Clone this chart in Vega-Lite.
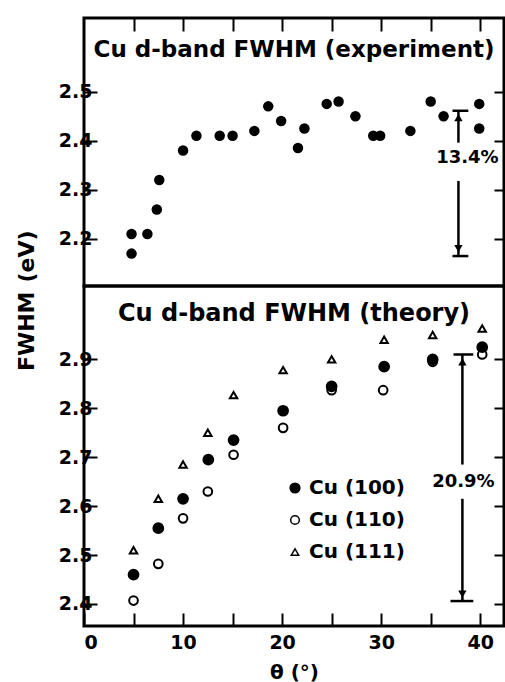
{
  "$schema": "https://vega.github.io/schema/vega-lite/v6.json",
  "background": "white",
  "padding": {"left": 13, "top": 15, "right": 1, "bottom": 2},
  "spacing": 0,
  "bounds": "flush",
  "config": {
    "view": {"stroke": "black", "strokeWidth": 3},
    "font": "DejaVu Sans",
    "axis": {
      "grid": false, "domain": false, "tickColor": "black", "tickWidth": 2, "tickSize": -13,
      "labelFont": "DejaVu Sans", "labelFontWeight": "bold", "labelColor": "black", "labelFontSize": 19,
      "titleFont": "DejaVu Sans", "titleFontWeight": "bold", "titleColor": "black", "titleFontSize": 20
    },
    "title": {"font": "DejaVu Sans", "fontWeight": "bold", "color": "black", "fontSize": 23, "anchor": "middle"}
  },
  "vconcat": [
    {
      "width": 420, "height": 268,
      "title": {"text": "Cu d-band  FWHM (experiment)", "offset": -45},
      "layer": [
        {
          "data": {"values": [
            {"theta": 4.8, "fwhm": 2.21}, {"theta": 4.8, "fwhm": 2.17}, {"theta": 6.4, "fwhm": 2.21},
            {"theta": 7.35, "fwhm": 2.26}, {"theta": 7.6, "fwhm": 2.32}, {"theta": 10.0, "fwhm": 2.38},
            {"theta": 11.35, "fwhm": 2.41}, {"theta": 13.7, "fwhm": 2.41}, {"theta": 15.0, "fwhm": 2.41},
            {"theta": 17.2, "fwhm": 2.42}, {"theta": 18.6, "fwhm": 2.47}, {"theta": 19.9, "fwhm": 2.44},
            {"theta": 21.6, "fwhm": 2.385}, {"theta": 22.25, "fwhm": 2.425}, {"theta": 24.5, "fwhm": 2.475},
            {"theta": 25.7, "fwhm": 2.48}, {"theta": 27.4, "fwhm": 2.45}, {"theta": 29.2, "fwhm": 2.41},
            {"theta": 29.9, "fwhm": 2.41}, {"theta": 32.95, "fwhm": 2.42}, {"theta": 35.0, "fwhm": 2.48},
            {"theta": 36.3, "fwhm": 2.45}, {"theta": 39.9, "fwhm": 2.475}, {"theta": 39.9, "fwhm": 2.425}
          ]},
          "mark": {"type": "circle", "size": 110, "color": "black", "opacity": 1},
          "encoding": {
            "x": {"field": "theta", "type": "quantitative", "scale": {"domain": [0, 42.4], "nice": false, "zero": false}, "axis": null},
            "y": {"field": "fwhm", "type": "quantitative", "scale": {"domain": [2.104, 2.65], "nice": false, "zero": false},
                  "axis": {"orient": "left", "values": [2.2, 2.3, 2.4, 2.5], "format": ".1f", "title": "(eV)", "titleFontSize": 22, "titleAnchor": "start", "titleY": 264, "titlePadding": 20, "labelPadding": 5}}
          }
        },
        {
          "data": {"values": [
            {"theta": 37.8, "theta2": 37.8, "fwhm": 2.461, "fwhm2": 2.396},
            {"theta": 37.8, "theta2": 37.8, "fwhm": 2.318, "fwhm2": 2.165},
            {"theta": 37.2, "theta2": 38.8, "fwhm": 2.461, "fwhm2": 2.461},
            {"theta": 37.2, "theta2": 38.8, "fwhm": 2.165, "fwhm2": 2.165}
          ]},
          "mark": {"type": "rule", "color": "black", "strokeWidth": 2.5},
          "encoding": {
            "x": {"field": "theta", "type": "quantitative", "scale": {"domain": [0, 42.4], "nice": false, "zero": false},
                  "axis": {"orient": "top", "values": [5, 10, 15, 20, 25, 30, 35, 40], "labels": false, "title": null}},
            "x2": {"field": "theta2"},
            "y": {"field": "fwhm", "type": "quantitative", "scale": {"domain": [2.104, 2.65], "nice": false, "zero": false},
                  "axis": {"orient": "right", "values": [2.2, 2.3, 2.4, 2.5], "labels": false, "title": null, "tickSize": -10}},
            "y2": {"field": "fwhm2"}
          }
        },
        {
          "data": {"values": [{"theta": 37.8, "fwhm": 2.447}]},
          "mark": {"type": "point", "shape": "triangle-up", "filled": true, "color": "black", "opacity": 1, "size": 70},
          "encoding": {
            "x": {"field": "theta", "type": "quantitative", "axis": null},
            "y": {"field": "fwhm", "type": "quantitative", "axis": null}
          }
        },
        {
          "data": {"values": [{"theta": 37.8, "fwhm": 2.18}]},
          "mark": {"type": "point", "shape": "triangle-down", "filled": true, "color": "black", "opacity": 1, "size": 70},
          "encoding": {
            "x": {"field": "theta", "type": "quantitative", "axis": null},
            "y": {"field": "fwhm", "type": "quantitative", "axis": null}
          }
        },
        {
          "data": {"values": [{"theta": 38.7, "fwhm": 2.365, "label": "13.4%"}]},
          "mark": {"type": "text", "font": "DejaVu Sans", "fontWeight": "bold", "fontSize": 18, "color": "black", "align": "center", "baseline": "middle"},
          "encoding": {
            "x": {"field": "theta", "type": "quantitative", "axis": null},
            "y": {"field": "fwhm", "type": "quantitative", "axis": null},
            "text": {"field": "label"}
          }
        }
      ],
      "resolve": {"axis": {"x": "independent", "y": "independent"}}
    },
    {
      "width": 420, "height": 340,
      "title": {"text": "Cu d-band  FWHM (theory)", "offset": -40, "fontSize": 24},
      "layer": [
        {
          "data": {"values": [
            {"theta": 5.0, "fwhm": 2.407, "series": "Cu (110)"}, {"theta": 7.5, "fwhm": 2.482, "series": "Cu (110)"},
            {"theta": 10.0, "fwhm": 2.575, "series": "Cu (110)"}, {"theta": 12.5, "fwhm": 2.63, "series": "Cu (110)"},
            {"theta": 15.1, "fwhm": 2.705, "series": "Cu (110)"}, {"theta": 20.1, "fwhm": 2.76, "series": "Cu (110)"},
            {"theta": 25.0, "fwhm": 2.837, "series": "Cu (110)"}, {"theta": 30.2, "fwhm": 2.837, "series": "Cu (110)"},
            {"theta": 35.2, "fwhm": 2.895, "series": "Cu (110)"}, {"theta": 40.2, "fwhm": 2.91, "series": "Cu (110)"},
            {"theta": 5.0, "fwhm": 2.51, "series": "Cu (111)"}, {"theta": 7.5, "fwhm": 2.615, "series": "Cu (111)"},
            {"theta": 10.0, "fwhm": 2.685, "series": "Cu (111)"}, {"theta": 12.5, "fwhm": 2.75, "series": "Cu (111)"},
            {"theta": 15.1, "fwhm": 2.827, "series": "Cu (111)"}, {"theta": 20.1, "fwhm": 2.878, "series": "Cu (111)"},
            {"theta": 25.0, "fwhm": 2.90, "series": "Cu (111)"}, {"theta": 30.3, "fwhm": 2.94, "series": "Cu (111)"},
            {"theta": 35.2, "fwhm": 2.95, "series": "Cu (111)"}, {"theta": 40.2, "fwhm": 2.963, "series": "Cu (111)"},
            {"theta": 5.0, "fwhm": 2.46, "series": "Cu (100)"}, {"theta": 7.5, "fwhm": 2.555, "series": "Cu (100)"},
            {"theta": 10.0, "fwhm": 2.615, "series": "Cu (100)"}, {"theta": 12.55, "fwhm": 2.695, "series": "Cu (100)"},
            {"theta": 15.1, "fwhm": 2.735, "series": "Cu (100)"}, {"theta": 20.1, "fwhm": 2.795, "series": "Cu (100)"},
            {"theta": 25.0, "fwhm": 2.845, "series": "Cu (100)"}, {"theta": 30.3, "fwhm": 2.885, "series": "Cu (100)"},
            {"theta": 35.2, "fwhm": 2.90, "series": "Cu (100)"}, {"theta": 40.2, "fwhm": 2.925, "series": "Cu (100)"}
          ]},
          "mark": {"type": "point", "filled": true, "stroke": "black", "strokeWidth": 2, "opacity": 1},
          "encoding": {
            "x": {"field": "theta", "type": "quantitative", "scale": {"domain": [0, 42.4], "nice": false, "zero": false},
                  "axis": {"orient": "bottom", "values": [0, 5, 10, 15, 20, 25, 30, 35, 40], "labelExpr": "datum.value % 10 === 0 ? datum.label : ''", "title": "θ (°)", "labelPadding": 20, "titlePadding": 10}},
            "y": {"field": "fwhm", "type": "quantitative", "scale": {"domain": [2.355, 3.05], "nice": false, "zero": false},
                  "axis": {"orient": "left", "values": [2.4, 2.5, 2.6, 2.7, 2.8, 2.9], "format": ".1f", "title": "FWHM", "titleFontSize": 22, "titleAnchor": "end", "titleY": 5, "titlePadding": 20, "labelPadding": 5}},
            "shape": {"field": "series", "type": "nominal", "scale": {"domain": ["Cu (100)", "Cu (110)", "Cu (111)"], "range": ["circle", "circle", "triangle-up"]}, "title": null},
            "fill": {"field": "series", "type": "nominal", "scale": {"domain": ["Cu (100)", "Cu (110)", "Cu (111)"], "range": ["black", "white", "white"]}, "title": null},
            "size": {"field": "series", "type": "nominal", "scale": {"domain": ["Cu (100)", "Cu (110)", "Cu (111)"], "range": [95, 55, 60]}, "title": null,
                     "legend": {"orient": "none", "legendX": 201, "legendY": 460, "labelFont": "DejaVu Sans", "labelFontWeight": "bold", "labelFontSize": 20, "labelColor": "black", "rowPadding": 12,
                                "encode": {"symbols": {"update": {"stroke": {"value": "black"}, "strokeWidth": {"value": 2}}}}}}
          }
        },
        {
          "data": {"values": [
            {"theta": 38.2, "theta2": 38.2, "fwhm": 2.91, "fwhm2": 2.685},
            {"theta": 38.2, "theta2": 38.2, "fwhm": 2.615, "fwhm2": 2.406},
            {"theta": 37.3, "theta2": 39.3, "fwhm": 2.91, "fwhm2": 2.91},
            {"theta": 37.0, "theta2": 39.3, "fwhm": 2.406, "fwhm2": 2.406}
          ]},
          "mark": {"type": "rule", "color": "black", "strokeWidth": 2.5},
          "encoding": {
            "x": {"field": "theta", "type": "quantitative", "scale": {"domain": [0, 42.4], "nice": false, "zero": false}, "axis": null},
            "x2": {"field": "theta2"},
            "y": {"field": "fwhm", "type": "quantitative", "scale": {"domain": [2.355, 3.05], "nice": false, "zero": false},
                  "axis": {"orient": "right", "values": [2.4, 2.5, 2.6, 2.7, 2.8, 2.9], "labels": false, "title": null, "tickSize": -10}},
            "y2": {"field": "fwhm2"}
          }
        },
        {
          "data": {"values": [{"theta": 38.2, "fwhm": 2.895}]},
          "mark": {"type": "point", "shape": "triangle-up", "filled": true, "color": "black", "opacity": 1, "size": 70},
          "encoding": {
            "x": {"field": "theta", "type": "quantitative", "axis": null},
            "y": {"field": "fwhm", "type": "quantitative", "axis": null}
          }
        },
        {
          "data": {"values": [{"theta": 38.2, "fwhm": 2.42}]},
          "mark": {"type": "point", "shape": "triangle-down", "filled": true, "color": "black", "opacity": 1, "size": 70},
          "encoding": {
            "x": {"field": "theta", "type": "quantitative", "axis": null},
            "y": {"field": "fwhm", "type": "quantitative", "axis": null}
          }
        },
        {
          "data": {"values": [{"theta": 38.3, "fwhm": 2.649, "label": "20.9%"}]},
          "mark": {"type": "text", "font": "DejaVu Sans", "fontWeight": "bold", "fontSize": 18, "color": "black", "align": "center", "baseline": "middle"},
          "encoding": {
            "x": {"field": "theta", "type": "quantitative", "axis": null},
            "y": {"field": "fwhm", "type": "quantitative", "axis": null},
            "text": {"field": "label"}
          }
        }
      ],
      "resolve": {"axis": {"x": "independent", "y": "independent"}}
    }
  ]
}
